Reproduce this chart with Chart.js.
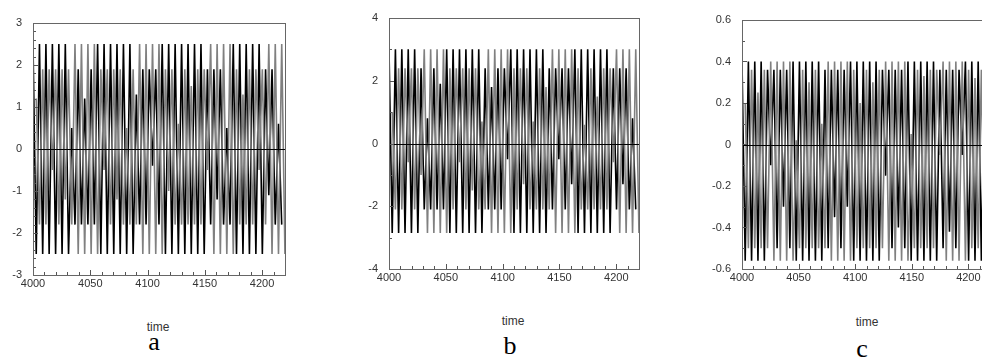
<!DOCTYPE html>
<html>
<head>
<meta charset="utf-8">
<script src="https://cdn.jsdelivr.net/npm/chart.js@4"></script>
<style>
  html, body { margin: 0; padding: 0; background: #fff; }
  body { width: 982px; height: 361px; overflow: hidden; position: relative; }
  .painel { position: absolute; top: 0; height: 300px; }
  .rotulo { position: absolute; font-family: "Liberation Sans", Arial, sans-serif; font-size: 12px; color: #333; line-height: 1; transform: translateX(-50%); }
  .letra { position: absolute; font-family: "Liberation Serif", "Times New Roman", serif; font-size: 26px; color: #000; line-height: 1; transform: translateX(-50%); }
</style>
</head>
<body>
<div class="painel" style="left:0px;width:300px"><canvas id="grafico-a"></canvas></div>
<div class="painel" style="left:330px;width:330px"><canvas id="grafico-b"></canvas></div>
<div class="painel" style="left:660px;width:345px"><canvas id="grafico-c"></canvas></div>
<div class="rotulo" style="left:158px;top:321px">time</div>
<div class="rotulo" style="left:513px;top:315px">time</div>
<div class="rotulo" style="left:867px;top:316px">time</div>
<div class="letra" style="left:154px;top:329px">a</div>
<div class="letra" style="left:510px;top:333px">b</div>
<div class="letra" style="left:862px;top:336px">c</div>
<script>
// tempo: inicio e periodo da oscilacao rapida
const startTime = 4000;
const cyclePeriod = 5.64;
const xTicks = [4000, 4050, 4100, 4150, 4200];

// painel a
const yTicksA = [-3, -2, -1, 0, 1, 2, 3];
const blackTopsA = [2.5, 2.5, 2.5, 2.5, 2.5, 2.5, 0.5, 1.9, 1.2, 1.9, 2.5, 2.5, 2.5, 2.5, 2.5, 2.5, 1.3, 1.9, 1.9, 1.9, 2.5, 2.5, 2.5, 2.5, 2.5, 2.5, 2.5, 1.9, 1.9, 1.9, 0.5, 2.5, 2.5, 2.5, 2.5, 2.5, 1.9, 1.9, 0.6];
const blackBotsA = [-2.5, -2.5, -2.5, -2.5, -2.5, -2.5, -1.8, -1.8, -1.8, -1.8, -2.5, -2.5, -2.5, -2.5, -2.5, -2.5, -1.8, -1.8, -0.4, -1.8, -2.5, -2.5, -2.5, -2.5, -2.5, -2.5, -2.5, -1.8, -1.2, -1.8, -1.8, -2.5, -2.5, -2.5, -2.5, -2.5, -1.1, -1.8, -1.8];
const grayTopsA = [1.2, 1.9, 1.9, 1.9, 1.9, 1.9, 2.5, 2.5, 2.5, 2.5, 1.9, 1.9, 1.9, 1.9, 0.5, 1.9, 2.5, 2.5, 2.5, 2.5, 1.9, 1.9, 0.6, 1.9, 1.5, 1.9, 1.9, 2.5, 2.5, 2.5, 2.5, 1.9, 1.3, 1.9, 1.9, 1.9, 2.5, 2.5, 2.5];
const grayBotsA = [-1.8, -1.8, -0.5, -1.8, -1.2, -1.8, -2.5, -2.5, -2.5, -2.5, -0.5, -1.8, -1.2, -1.8, -1.8, -1.8, -2.5, -2.5, -2.5, -2.5, -1.0, -1.8, -1.8, -1.8, -1.8, -1.8, -0.5, -2.5, -2.5, -2.5, -2.5, -1.8, -1.8, -1.8, -0.5, -1.8, -2.5, -2.5, -2.5];

// painel b
const yTicksB = [-4, -2, 0, 2, 4];
const blackTopsB = [3.0, 3.0, 3.0, 3.0, 3.0, 2.4, 0.8, 2.4, 1.9, 3.0, 3.0, 3.0, 3.0, 3.0, 3.0, 2.4, 1.8, 2.4, 2.4, 3.0, 3.0, 3.0, 3.0, 3.0, 3.0, 2.4, 2.4, 2.4, 2.4, 3.0, 3.0, 3.0, 3.0, 3.0, 3.0, 2.4, 2.4, 2.4, 0.8];
const blackBotsB = [-2.85, -2.85, -2.85, -2.85, -2.85, -2.1, -2.1, -2.1, -2.1, -2.85, -2.85, -2.85, -2.85, -2.85, -2.85, -2.1, -2.1, -2.1, -0.5, -2.85, -2.85, -2.85, -2.85, -2.85, -2.85, -2.1, -0.5, -2.1, -1.3, -2.85, -2.85, -2.85, -2.85, -2.85, -2.85, -2.1, -1.3, -2.1, -2.1];
const grayTopsB = [1.0, 2.4, 2.4, 2.4, 2.4, 3.0, 3.0, 3.0, 3.0, 2.4, 2.4, 2.4, 2.4, 2.4, 0.7, 3.0, 3.0, 3.0, 3.0, 2.4, 2.4, 2.4, 0.7, 2.4, 1.8, 3.0, 3.0, 3.0, 3.0, 2.4, 0.6, 2.4, 1.5, 2.4, 2.4, 3.0, 3.0, 3.0, 3.0];
const grayBotsB = [-2.1, -2.1, -0.6, -2.1, -1.0, -2.85, -2.85, -2.85, -2.85, -2.1, -0.6, -2.1, -1.5, -2.1, -2.1, -2.85, -2.85, -2.85, -2.85, -2.1, -1.3, -2.1, -2.1, -2.1, -2.1, -2.85, -2.85, -2.85, -2.85, -2.1, -2.1, -2.1, -2.1, -2.1, -0.6, -2.85, -2.85, -2.85, -2.85];

// painel c
const yTicksC = [-0.6, -0.4, -0.2, 0, 0.2, 0.4, 0.6];
const blackTopsC = [0.40, 0.40, 0.40, 0.40, 0.36, 0.36, 0.36, 0.36, 0.40, 0.40, 0.40, 0.40, 0.40, 0.36, 0.36, 0.36, 0.36, 0.40, 0.40, 0.40, 0.40, 0.40, 0.36, 0.36, 0.36, 0.36, 0.40, 0.40, 0.40, 0.40, 0.40, 0.36, 0.36, 0.36, 0.36, 0.40, 0.40, 0.40, 0.40];
const blackBotsC = [-0.56, -0.56, -0.56, -0.56, -0.1, -0.5, -0.3, -0.5, -0.56, -0.56, -0.56, -0.56, -0.56, -0.5, -0.35, -0.5, -0.3, -0.56, -0.56, -0.56, -0.56, -0.56, -0.15, -0.5, -0.4, -0.5, -0.56, -0.56, -0.56, -0.56, -0.56, -0.5, -0.42, -0.5, -0.05, -0.56, -0.56, -0.56, -0.56];
const grayTopsC = [0.2, 0.36, 0.25, 0.36, 0.40, 0.40, 0.40, 0.40, 0.02, 0.36, 0.3, 0.36, 0.1, 0.40, 0.40, 0.40, 0.40, 0.36, 0.2, 0.36, 0.3, 0.36, 0.40, 0.40, 0.40, 0.40, 0.05, 0.36, 0.33, 0.36, 0.36, 0.40, 0.40, 0.40, 0.40, 0.36, 0.32, 0.36, 0.05];
const grayBotsC = [-0.5, -0.5, -0.5, -0.5, -0.56, -0.56, -0.56, -0.56, -0.5, -0.5, -0.5, -0.5, -0.5, -0.56, -0.56, -0.56, -0.56, -0.5, -0.5, -0.5, -0.5, -0.5, -0.56, -0.56, -0.56, -0.56, -0.5, -0.5, -0.5, -0.5, -0.05, -0.56, -0.56, -0.56, -0.56, -0.5, -0.5, -0.5, -0.5];

// cada ciclo: um maximo e depois um minimo meio periodo depois
function montarPontos(topos, fundos, fase) {
  var pontos = [];
  for (var k = 0; k < topos.length; k++) {
    pontos.push({ x: startTime + (k + fase) * cyclePeriod, y: topos[k] });
    pontos.push({ x: startTime + (k + fase + 0.5) * cyclePeriod, y: fundos[k] });
  }
  return pontos;
}

// caixa, linha do zero e tracinhos para dentro
const molduraPlugin = {
  id: "moldura",
  afterDatasetsDraw(chart, args, opts) {
    const ctx = chart.ctx;
    const area = chart.chartArea;
    const sx = chart.scales.x;
    const sy = chart.scales.y;
    ctx.save();
    ctx.lineWidth = 1;
    ctx.strokeStyle = "#000";
    const y0 = Math.round(sy.getPixelForValue(0)) + 0.5;
    ctx.beginPath();
    ctx.moveTo(area.left, y0);
    ctx.lineTo(area.right, y0);
    ctx.stroke();

    ctx.strokeStyle = "#555";
    for (var v = sx.min; v <= sx.max + 0.001; v += 10) {
      var px = Math.round(sx.getPixelForValue(v)) + 0.5;
      var len = (Math.round(v) % 50 === 0) ? 5 : 3;
      ctx.beginPath();
      ctx.moveTo(px, area.bottom);
      ctx.lineTo(px, area.bottom - len);
      ctx.stroke();
    }
    var n = Math.round((sy.max - sy.min) / opts.minorY);
    for (var i = 0; i <= n; i++) {
      var val = sy.min + i * opts.minorY;
      var py = Math.round(sy.getPixelForValue(val)) + 0.5;
      var major = Math.abs(val / opts.majorY - Math.round(val / opts.majorY)) < 0.001;
      ctx.beginPath();
      ctx.moveTo(area.left, py);
      ctx.lineTo(area.left + (major ? 5 : 3), py);
      ctx.stroke();
    }
    ctx.strokeStyle = "#666";
    ctx.strokeRect(Math.round(area.left) + 0.5, Math.round(area.top) + 0.5,
      Math.round(area.right - area.left), Math.round(area.bottom - area.top));
    ctx.restore();
  }
};

function grafico(id, largura, yTicks, minorY, majorY, padding, yLargura, bt, bb, gt, gb, casas) {
  const canvas = document.getElementById(id);
  canvas.width = largura;
  canvas.height = 300;
  canvas.style.width = largura + "px";
  canvas.style.height = "300px";
  new Chart(canvas.getContext("2d"), {
    type: "line",
    data: {
      datasets: [
        {
          label: "cinza",
          data: montarPontos(gt, gb, 0.5),
          borderColor: "#808080",
          borderWidth: 1.6,
          pointRadius: 0,
          tension: 0,
        },
        {
          label: "preto",
          data: montarPontos(bt, bb, 0),
          borderColor: "#000",
          borderWidth: 1.6,
          pointRadius: 0,
          tension: 0,
        },
      ],
    },
    options: {
      responsive: false,
      animation: false,
      events: [],
      layout: { padding: padding },
      plugins: {
        legend: { display: false },
        tooltip: { enabled: false },
        moldura: { minorY: minorY, majorY: majorY },
      },
      scales: {
        x: {
          type: "linear",
          min: 4000,
          max: 4220,
          afterBuildTicks: (s) => { s.ticks = xTicks.map((v) => ({ value: v })); },
          afterFit: (s) => { s.height = 25; },
          grid: { display: false, drawTicks: false },
          border: { display: false },
          ticks: {
            padding: 2,
            color: "#333",
            font: { family: "'Liberation Sans', Arial, sans-serif", size: 11 },
            callback: (v) => String(v),
          },
        },
        y: {
          min: yTicks[0],
          max: yTicks[yTicks.length - 1],
          afterBuildTicks: (s) => { s.ticks = yTicks.map((v) => ({ value: v })); },
          afterFit: (s) => { s.width = yLargura; },
          grid: { display: false, drawTicks: false },
          border: { display: false },
          ticks: {
            padding: 11,
            color: "#333",
            font: { family: "'Liberation Sans', Arial, sans-serif", size: 11 },
            callback: (v) => Number(v).toFixed(casas).replace(/^(-?)0\.0$/, "0").replace(/^-?0$/, "0"),
          },
        },
      },
    },
    plugins: [molduraPlugin],
  });
}

grafico("grafico-a", 300, yTicksA, 0.2, 1, { top: 23, right: 15, bottom: 0, left: 0 }, 33,
  blackTopsA, blackBotsA, grayTopsA, grayBotsA, 0);
grafico("grafico-b", 330, yTicksB, 1, 2, { top: 18, right: 21, bottom: 6, left: 0 }, 59,
  blackTopsB, blackBotsB, grayTopsB, grayBotsB, 0);
grafico("grafico-c", 345, yTicksC, 0.1, 0.2, { top: 20, right: 14, bottom: 6, left: 0 }, 82,
  blackTopsC, blackBotsC, grayTopsC, grayBotsC, 1);
</script>
</body>
</html>
